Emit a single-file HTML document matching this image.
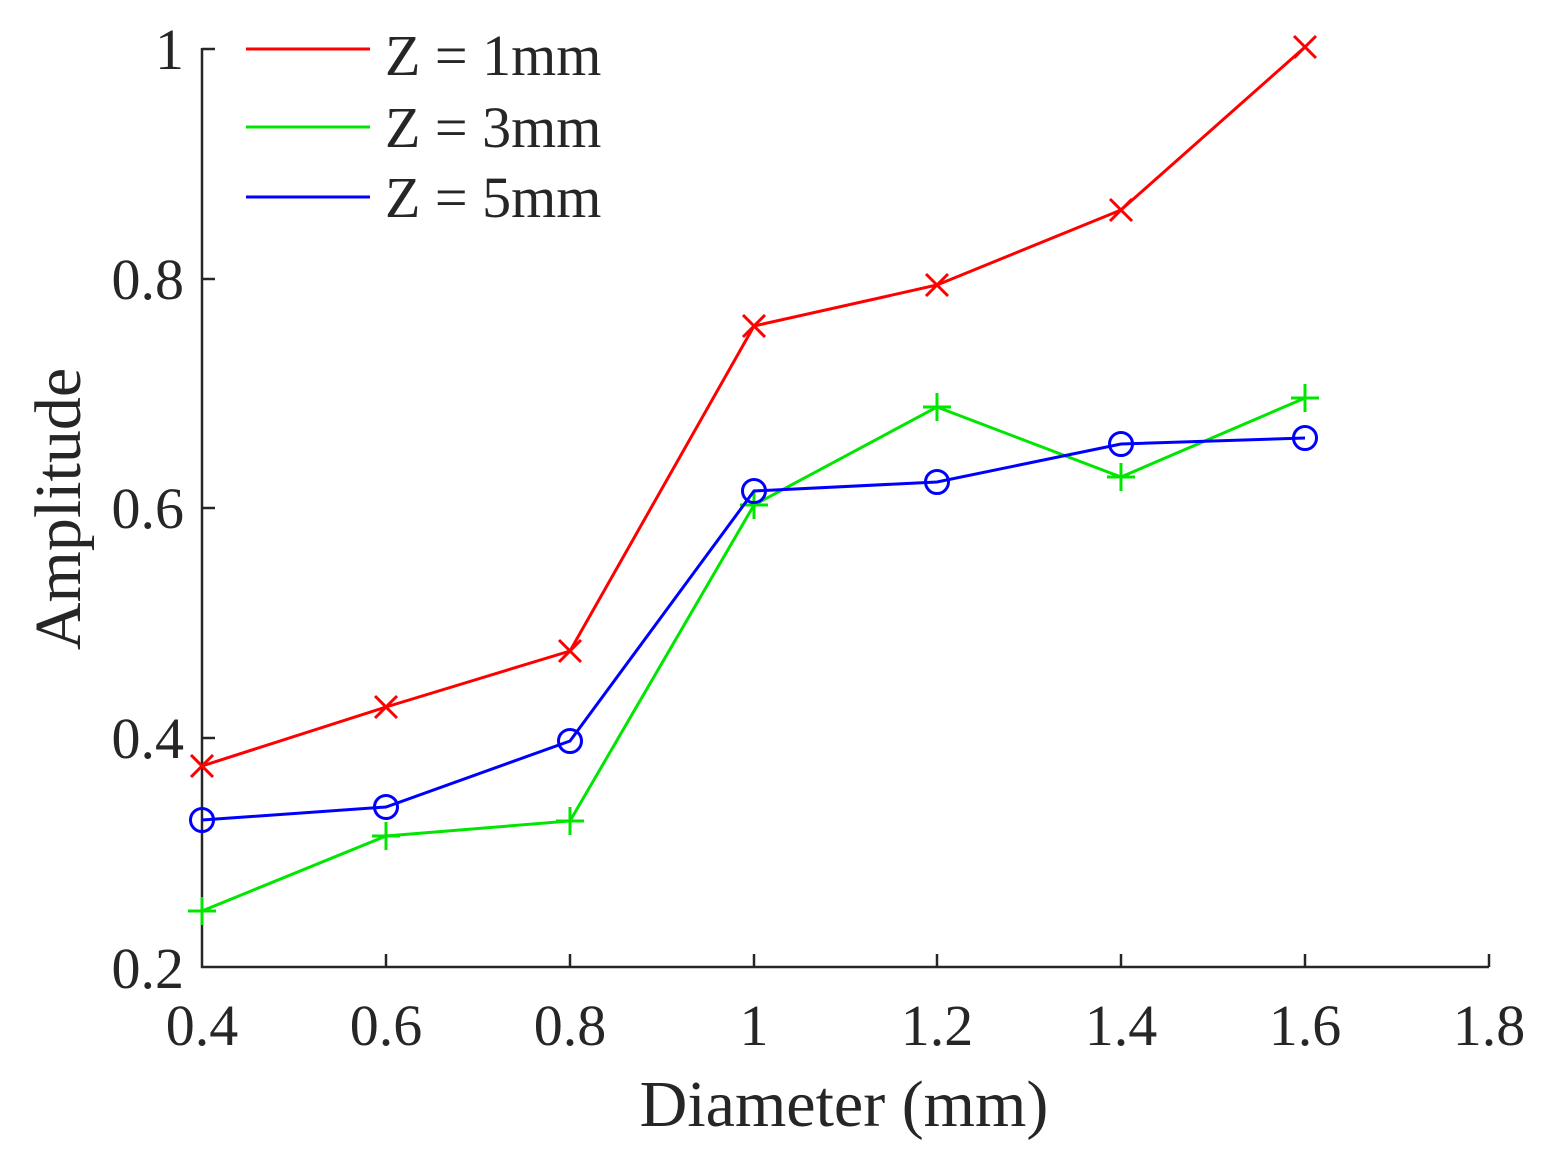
<!DOCTYPE html>
<html><head><style>
html,body{margin:0;padding:0;background:#fff;}
svg text{font-family:"Liberation Serif",serif;fill:#262626;}
</style></head><body>
<svg width="1550" height="1157" xmlns="http://www.w3.org/2000/svg">
<g stroke="#262626" stroke-width="2.5" fill="none">
<line x1="202" y1="48" x2="202" y2="968"/>
<line x1="201" y1="967" x2="1489" y2="967"/>
<line x1="386" y1="967" x2="386" y2="954"/>
<line x1="570" y1="967" x2="570" y2="954"/>
<line x1="754" y1="967" x2="754" y2="954"/>
<line x1="937" y1="967" x2="937" y2="954"/>
<line x1="1121" y1="967" x2="1121" y2="954"/>
<line x1="1305" y1="967" x2="1305" y2="954"/>
<line x1="1489" y1="967" x2="1489" y2="954"/>
<line x1="202" y1="49" x2="215" y2="49"/>
<line x1="202" y1="279" x2="215" y2="279"/>
<line x1="202" y1="508" x2="215" y2="508"/>
<line x1="202" y1="738" x2="215" y2="738"/>
</g>
<g font-size="58" text-anchor="middle">
<text x="202" y="1045">0.4</text>
<text x="386" y="1045">0.6</text>
<text x="570" y="1045">0.8</text>
<text x="754" y="1045">1</text>
<text x="937" y="1045">1.2</text>
<text x="1121" y="1045">1.4</text>
<text x="1305" y="1045">1.6</text>
<text x="1489" y="1045">1.8</text>
</g>
<g font-size="58" text-anchor="end">
<text x="184" y="69">1</text>
<text x="184" y="299">0.8</text>
<text x="184" y="528">0.6</text>
<text x="184" y="758">0.4</text>
<text x="184" y="988">0.2</text>
</g>
<text x="844" y="1126" font-size="66" text-anchor="middle">Diameter (mm)</text>
<text transform="translate(80,509) rotate(-90)" font-size="66" text-anchor="middle">Amplitude</text>

<polyline fill="none" stroke="#ff0000" stroke-width="3" points="202,766 386,707 570,651 754,326 937,285 1121,210 1305,47"/>
<g stroke="#ff0000" stroke-width="3">
<path d="M191,755l22,22M213,755l-22,22"/>
<path d="M375,696l22,22M397,696l-22,22"/>
<path d="M559,640l22,22M581,640l-22,22"/>
<path d="M743,315l22,22M765,315l-22,22"/>
<path d="M926,274l22,22M948,274l-22,22"/>
<path d="M1110,199l22,22M1132,199l-22,22"/>
<path d="M1294,36l22,22M1316,36l-22,22"/>
</g>
<polyline fill="none" stroke="#00e600" stroke-width="3" points="202,911 386,836 570,821 754,505 937,407 1121,477 1305,398"/>
<g stroke="#00e600" stroke-width="3">
<path d="M188,911h28M202,897v28"/>
<path d="M372,836h28M386,822v28"/>
<path d="M556,821h28M570,807v28"/>
<path d="M740,505h28M754,491v28"/>
<path d="M923,407h28M937,393v28"/>
<path d="M1107,477h28M1121,463v28"/>
<path d="M1291,398h28M1305,384v28"/>
</g>
<polyline fill="none" stroke="#0000ff" stroke-width="3" points="202,820 386,807 570,741 754,491 937,482 1121,444 1305,438"/>
<g stroke="#0000ff" stroke-width="3" fill="none">
<circle cx="202" cy="820" r="11.5"/>
<circle cx="386" cy="807" r="11.5"/>
<circle cx="570" cy="741" r="11.5"/>
<circle cx="754" cy="491" r="11.5"/>
<circle cx="937" cy="482" r="11.5"/>
<circle cx="1121" cy="444" r="11.5"/>
<circle cx="1305" cy="438" r="11.5"/>
</g>
<line x1="246" y1="49" x2="370" y2="49" stroke="#ff0000" stroke-width="3"/>
<line x1="246" y1="127" x2="370" y2="127" stroke="#00e600" stroke-width="3"/>
<line x1="246" y1="197" x2="370" y2="197" stroke="#0000ff" stroke-width="3"/>
<g font-size="58">
<text x="385" y="75">Z = 1mm</text>
<text x="385" y="147">Z = 3mm</text>
<text x="385" y="217">Z = 5mm</text>
</g>
</svg>
</body></html>
